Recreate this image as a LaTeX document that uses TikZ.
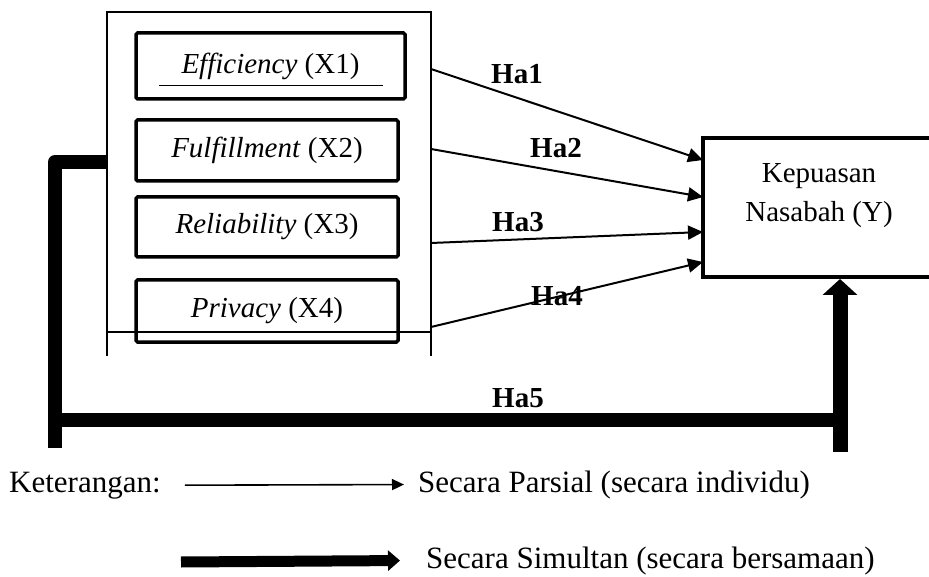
\documentclass[tikz,border=0pt]{standalone}
\usepackage{fontspec}
\setmainfont{Liberation Serif}
\usetikzlibrary{arrows.meta}

\newcommand{\diagfont}{\fontsize{29}{39}\selectfont}
\newcommand{\legfont}{\fontsize{31}{37}\selectfont}

\tikzset{
  varbox/.style={draw, line width=3.5pt, rounded corners=1.5pt, inner sep=0pt},
  ybox/.style={draw, line width=4pt, inner sep=0pt, minimum width=232pt, minimum height=139pt},
  frameline/.style={line width=1.3pt},
  partarrow/.style={line width=2pt, -{Triangle[length=15pt,width=14pt]}},
  simline/.style={line width=14pt, line join=round},
  hlabel/.style={font=\diagfont\bfseries, inner sep=0pt},
  legtext/.style={font=\legfont, inner sep=0pt, anchor=base west}
}

\begin{document}
\begin{tikzpicture}[x=1pt, y=-1pt, every node/.style={font=\diagfont}]
  \useasboundingbox (0,0) rectangle (929,577);

  \draw[frameline] (107,356) -- (107,12) -- (431,12) -- (431,356);
  \draw[frameline] (107,332) -- (431,332);

  \node[varbox, minimum width=269pt, minimum height=66pt] (x1) at (270.5,66) {\textit{Efficiency} (X1)};
  \node[varbox, minimum width=262pt, minimum height=61pt] (x2) at (267,150.5) {\textit{Fulfillment} (X2)};
  \node[varbox, minimum width=262pt, minimum height=60pt] (x3) at (267,227) {\textit{Reliability} (X3)};
  \node[varbox, minimum width=262pt, minimum height=62pt] (x4) at (267,311) {\textit{Privacy} (X4)};
  \draw[line width=1pt] (159,86) -- (383,86);

  \node[ybox] (y) at (819,207.5) {};
  \node[align=center, inner sep=0pt] (ytext) at (819,196) {Kepuasan\\Nasabah (Y)};

  \coordinate (f1) at (431,69);
  \coordinate (f2) at (431,149);
  \coordinate (f3) at (431,243);
  \coordinate (f4) at (431,327);
  \coordinate (e1) at (703,160);
  \coordinate (e2) at (703,197);
  \coordinate (e3) at (703,232);
  \coordinate (e4) at (703,262);
  \draw[partarrow] (f1) -- (e1);
  \draw[partarrow] (f2) -- (e2);
  \draw[partarrow] (f3) -- (e3);
  \draw[partarrow] (f4) -- (e4);

  \node[hlabel] (ha1) at (517,74) {Ha1};
  \node[hlabel] (ha2) at (556,148) {Ha2};
  \node[hlabel] (ha3) at (518,222) {Ha3};
  \node[hlabel] (ha4) at (557,296) {Ha4};
  \node[hlabel] (ha5) at (518,398) {Ha5};

  \coordinate (fl) at (107,162);
  \coordinate (ybase) at (840,452);
  \draw[simline] (fl) -- (55,162) -- (55,448);
  \draw[simline] (55,420) -- (840,420);
  \draw[line width=15pt, -{Triangle[length=16pt,width=34pt]}] (ybase) -- (ybase |- y.south);

  \node[legtext] (ket) at (9,492) {Keterangan:};
  \node[legtext] (parsial) at (418,492) {Secara Parsial (secara individu)};
  \draw[line width=1.6pt, -{Triangle[length=12pt,width=11pt]}] ([xshift=24pt]ket.east) -- ([xshift=-14pt]parsial.west);

  \node[legtext] (simultan) at (426,568) {Secara Simultan (secara bersamaan)};
  \coordinate (simstart) at (181,562);
  \draw[line width=11pt, -{Triangle[length=12pt,width=20pt]}] (simstart) -- ([xshift=-26pt]simultan.west);
\end{tikzpicture}
\end{document}
